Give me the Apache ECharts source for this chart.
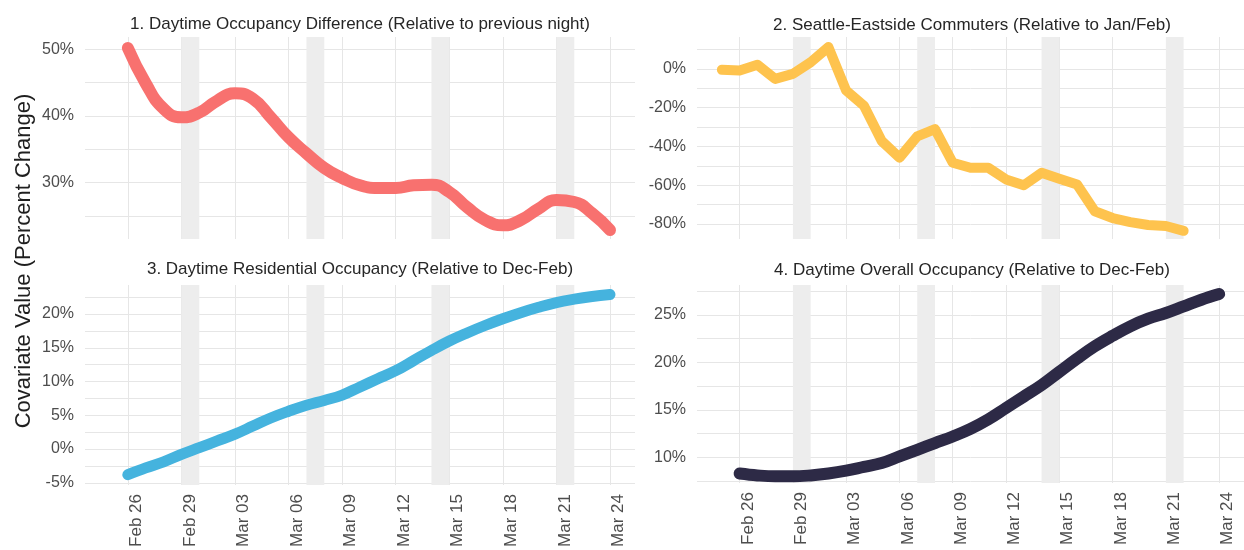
<!DOCTYPE html>
<html lang="en">
<head>
  <meta charset="UTF-8">
  <title>covariates</title>
  <script src="https://cdn.jsdelivr.net/npm/echarts@6.0.0/dist/echarts.min.js"></script>
  <style>
    html, body { margin: 0; padding: 0; background: #fff; }
    #chart { width: 1244px; height: 550px; }
  </style>
</head>
<body>
  <div id="chart"></div>
  <script>
    // dates (2020)
    let datesMain = ['2020-02-26', '2020-02-27', '2020-02-28', '2020-02-29', '2020-03-01', '2020-03-02', '2020-03-03',
      '2020-03-04', '2020-03-05', '2020-03-06', '2020-03-07', '2020-03-08', '2020-03-09', '2020-03-10', '2020-03-11',
      '2020-03-12', '2020-03-13', '2020-03-14', '2020-03-15', '2020-03-16', '2020-03-17', '2020-03-18', '2020-03-19',
      '2020-03-20', '2020-03-21', '2020-03-22', '2020-03-23', '2020-03-24'];
    let datesCommute = ['2020-02-25', '2020-02-26', '2020-02-27', '2020-02-28', '2020-02-29', '2020-03-01', '2020-03-02',
      '2020-03-03', '2020-03-04', '2020-03-05', '2020-03-06', '2020-03-07', '2020-03-08', '2020-03-09', '2020-03-10',
      '2020-03-11', '2020-03-12', '2020-03-13', '2020-03-14', '2020-03-15', '2020-03-16', '2020-03-17', '2020-03-18',
      '2020-03-19', '2020-03-20', '2020-03-21', '2020-03-22'];

    // percent change values
    let occDiff = [50.2, 44.9, 41.1, 39.8, 40.5, 42.3, 43.4, 42.6, 39.8, 36.8, 34.4, 32.2, 30.7, 29.6,
      29.2, 29.2, 29.6, 29.7, 28.6, 26.3, 24.4, 23.6, 24.4, 26.1, 27.4, 27.1, 25.4, 22.9];
    let commuters = [-0.5, -0.9, 2.1, -5.2, -2.6, 3.4, 11.2, -11.2, -19, -37.2, -45.8, -34.8, -31.1, -48.4,
      -51, -51, -57, -60, -53.6, -56.7, -59.6, -73.4, -76.9, -79, -80.5, -81, -83.5];
    let residential = [-3.8, -2.8, -1.9, -0.8, 0.2, 1.2, 2.2, 3.4, 4.6, 5.6, 6.5, 7.2, 8.0, 9.2,
      10.4, 11.6, 13.1, 14.6, 16.0, 17.2, 18.3, 19.3, 20.2, 21.0, 21.7, 22.2, 22.6, 22.9];
    let overall = [8.3, 8.1, 8.0, 8.0, 8.1, 8.3, 8.6, 9.0, 9.4, 10.1, 10.8, 11.5, 12.2, 13.0,
      14.0, 15.2, 16.4, 17.6, 19.0, 20.4, 21.7, 22.8, 23.8, 24.6, 25.2, 25.9, 26.6, 27.2];

    // axes
    let tickDates = ['2020-02-26', '2020-02-29', '2020-03-03', '2020-03-06', '2020-03-09', '2020-03-12',
      '2020-03-15', '2020-03-18', '2020-03-21', '2020-03-24'];
    let tickLabels = ['Feb 26', 'Feb 29', 'Mar 03', 'Mar 06', 'Mar 09', 'Mar 12', 'Mar 15', 'Mar 18', 'Mar 21', 'Mar 24'];
    let weekendStart = ['2020-02-29', '2020-03-07', '2020-03-14', '2020-03-21'];
    let weekendEnd = ['2020-03-01', '2020-03-08', '2020-03-15', '2020-03-22'];

    let occDiffGrid = [25, 30, 35, 40, 45, 50];
    let occDiffTicks = [30, 40, 50];
    let commGrid = [-80, -70, -60, -50, -40, -30, -20, -10, 0, 10];
    let commTicks = [-80, -60, -40, -20, 0];
    let resGrid = [-5, -2.5, 0, 2.5, 5, 7.5, 10, 12.5, 15, 17.5, 20, 22.5];
    let resTicks = [-5, 0, 5, 10, 15, 20];
    let overallGrid = [7.5, 10, 12.5, 15, 17.5, 20, 22.5, 25, 27.5];
    let overallTicks = [10, 15, 20, 25];

    let titles = [
      '1. Daytime Occupancy Difference (Relative to previous night)',
      '2. Seattle-Eastside Commuters (Relative to Jan/Feb)',
      '3. Daytime Residential Occupancy (Relative to Dec-Feb)',
      '4. Daytime Overall Occupancy (Relative to Dec-Feb)'
    ];
    let colors = ['#f8716f', '#fec34e', '#45b3de', '#2d2a46'];
  </script>
  <script>
    const FONT = "'Liberation Sans', Arial, sans-serif";
    const DAY = 86400000;
    function ts(s) {
      let p = s.split('-').map(Number);
      return Date.UTC(p[0], p[1] - 1, p[2]);
    }
    let tickTs = tickDates.map(ts);
    let xMin = ts('2020-02-26') - 2.4 * DAY;
    let xMax = ts('2020-03-24') + 1.4 * DAY;

    let grids = [
      { left: 85, top: 37, width: 550, height: 202 },
      { left: 697, top: 37, width: 550, height: 202 },
      { left: 85, top: 285, width: 550, height: 200 },
      { left: 697, top: 285, width: 550, height: 198 }
    ];

    // dates go on a plain value axis (ms), labels come from tickLabels
    function xAxisFor(i) {
      let bottom = i >= 2;
      return {
        type: 'value', gridIndex: i, min: xMin, max: xMax,
        axisLine: { show: false },
        axisTick: { show: false, customValues: tickTs },
        splitLine: { show: true, lineStyle: { color: '#e6e6e6', width: 1 } },
        axisLabel: {
          show: bottom, customValues: tickTs, rotate: 90, margin: 9,
          verticalAlign: 'top',
          fontSize: 17, fontFamily: FONT, color: '#4d4d4d',
          formatter: v => { let k = tickTs.indexOf(v); return k >= 0 ? tickLabels[k] : ''; }
        }
      };
    }

    function yAxisFor(i, min, max, gridVals, labelVals) {
      return {
        type: 'value', gridIndex: i, min: min, max: max,
        axisLine: { show: false },
        axisTick: { show: false, customValues: gridVals },
        splitLine: { show: true, lineStyle: { color: '#e6e6e6', width: 1 } },
        axisLabel: {
          customValues: labelVals, margin: 11,
          fontSize: 16, fontFamily: FONT, color: '#4d4d4d',
          formatter: v => v + '%'
        }
      };
    }

    function lineSeries(i, dates, values, width, smooth) {
      return {
        type: 'line', xAxisIndex: i, yAxisIndex: i,
        data: dates.map((d, k) => [ts(d), values[k]]),
        showSymbol: false, smooth: smooth, z: 5,
        lineStyle: { color: colors[i], width: width, cap: 'round', join: 'round' },
        markArea: {
          silent: true,
          itemStyle: { color: '#ededed' },
          data: weekendStart.map((s, k) => [{ xAxis: ts(s) }, { xAxis: ts(weekendEnd[k]) }])
        }
      };
    }

    let titleCenters = [[360, 16], [972, 17], [360, 261], [972, 262]];

    let option = {
      animation: false,
      backgroundColor: '#ffffff',
      title: titles.map((t, i) => ({
        text: t, left: titleCenters[i][0], top: titleCenters[i][1], textAlign: 'center', padding: 0,
        textStyle: { fontSize: 17, fontWeight: 'normal', fontFamily: FONT, color: '#262626' }
      })),
      graphic: [{
        type: 'text', x: 24, y: 261, rotation: Math.PI / 2,
        style: {
          text: 'Covariate Value (Percent Change)', fontSize: 22, fontFamily: FONT,
          fill: '#1f1f1f', align: 'center', verticalAlign: 'middle'
        }
      }],
      grid: grids,
      xAxis: [0, 1, 2, 3].map(xAxisFor),
      yAxis: [
        yAxisFor(0, 21.55, 51.85, occDiffGrid, occDiffTicks),
        yAxisFor(1, -87.7, 16.4, commGrid, commTicks),
        yAxisFor(2, -5.33, 24.3, resGrid, resTicks),
        yAxisFor(3, 7.3, 28.15, overallGrid, overallTicks)
      ],
      series: [
        lineSeries(0, datesMain, occDiff, 12, 0.5),
        lineSeries(1, datesCommute, commuters, 10, false),
        lineSeries(2, datesMain, residential, 11, 0.4),
        lineSeries(3, datesMain, overall, 12, 0.4)
      ]
    };

    let chart = echarts.init(document.getElementById('chart'));
    chart.setOption(option);
  </script>
</body>
</html>
